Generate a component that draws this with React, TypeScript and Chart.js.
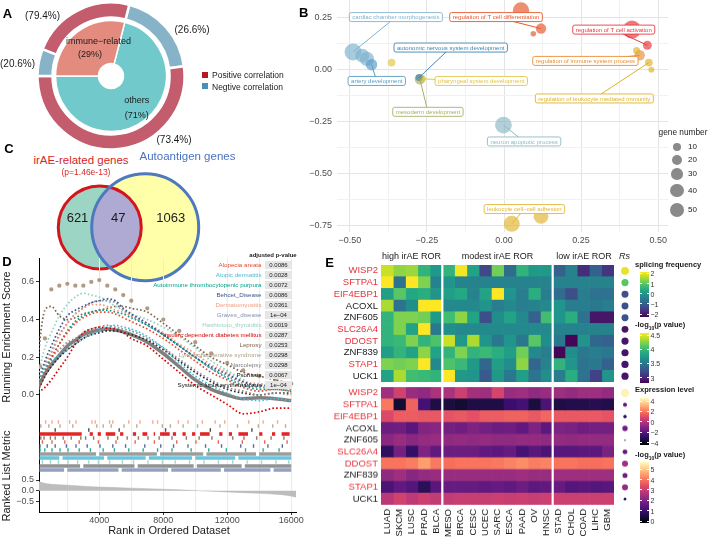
import React, { useEffect, useRef } from "react";
import { Chart, registerables } from "chart.js";

Chart.register(...registerables);

const FONT = "'Liberation Sans', Arial, Helvetica, sans-serif";
Chart.defaults.font.family = FONT;
Chart.defaults.color = "#4d4d4d";

/* ======================= DATA ======================= */
// ---- Panel A ----
const geneClasses = ["others", "immune−related"];
const geneClassShare = [71, 29];
const othersCorrelationSplit = [26.6, 73.4]; // Negtive, Positive (%)
const immuneCorrelationSplit = [20.6, 79.4]; // Negtive, Positive (%)
const correlationLegend = ["Positive correlation", "Negtive correlation"];

// ---- Panel B ----
const goTerms = [
  "cardiac chamber morphogenesis",
  "artery development",
  "autonomic nervous system development",
  "pharyngeal system development",
  "mesoderm development",
  "neuron apoptotic process",
  "regulation of T cell differentiation",
  "regulation of T cell activation",
  "regulation of immune system process",
  "regulation of leukocyte mediated immunity",
  "leukocyte cell−cell adhesion",
];
const bubbleX = [-0.49, -0.46, -0.445, -0.43, -0.365, -0.273, -0.268, -0.276, -0.002, 0.055, 0.12, 0.095, 0.415, 0.465, 0.44, 0.43, 0.47, 0.478, 0.025, 0.12];
const bubbleY = [0.083, 0.065, 0.05, 0.022, 0.032, -0.048, -0.046, -0.04, -0.268, 0.282, 0.195, 0.17, 0.19, 0.115, 0.067, 0.09, 0.032, -0.002, -0.741, -0.705];
const bubbleGenes = [70, 45, 48, 28, 9, 22, 14, 6, 68, 65, 22, 1, 80, 14, 22, 6, 9, 2, 62, 52];
const bubbleTerm = [0, 0, 0, 1, 3, 4, 3, 2, 5, 6, 6, 6, 7, 7, 8, 9, 9, 9, 10, 10];
const geneNumberBreaks = [10, 20, 30, 40, 50];
const bXTicks = [-0.5, -0.375, -0.25, -0.125, 0, 0.125, 0.25, 0.375, 0.5];
const bYTicks = [-0.75, -0.625, -0.5, -0.375, -0.25, -0.125, 0, 0.125, 0.25];

// ---- Panel C ----
const vennSets = ["irAE-related genes", "Autoantigen genes"];
const vennCounts = [621, 47, 1063]; // irAE only, shared, autoantigen only
const vennPValue = "p=1.46e-13";

// ---- Panel D ----
const diseases = [
  "Alopecia areata", "Atopic dermatitis", "Autoimmune thrombocytopenic purpura", "Behcet_Disease",
  "Dermatomyositis", "Graves_disease", "Hashimoto_thyroiditis", "Insulin−dependent diabetes mellitus",
  "Leprosy", "Lymphoproliferative syndrome", "Narcolepsy", "Psoriasis", "Systemic lupus erythematosus",
];
const adjustedP = [0.0086, 0.0028, 0.0072, 0.0086, 0.0361, 0.0001, 0.0019, 0.0287, 0.0253, 0.0298, 0.0298, 0.0067, 0.0001];
const esRanks = [1, 300, 600, 1000, 1500, 2000, 2500, 3000, 3500, 4000, 4500, 5000, 5500, 6000, 7000, 8000, 9000, 10000, 11000, 12000, 13000, 14000, 15000, 16000];
const esAlopecia = [0, 0.06, 0.12, 0.19, 0.27, 0.33, 0.38, 0.41, 0.43, 0.44, 0.44, 0.43, 0.41, 0.39, 0.35, 0.3, 0.24, 0.18, 0.12, 0.08, 0.04, 0.02, 0.03, 0.02];
const esAtopic = [0, 0.1, 0.14, 0.18, 0.21, 0.24, 0.27, 0.3, 0.32, 0.34, 0.36, 0.37, 0.36, 0.35, 0.31, 0.25, 0.17, 0.1, 0.05, 0.01, -0.02, -0.03, -0.02, -0.03];
const esAutoimmune = [0, 0.07, 0.13, 0.2, 0.27, 0.34, 0.39, 0.42, 0.44, 0.45, 0.45, 0.44, 0.43, 0.41, 0.37, 0.32, 0.26, 0.2, 0.14, 0.09, 0.05, 0.03, 0.03, 0.02];
const esBehcet = [0, 0.1, 0.18, 0.26, 0.35, 0.42, 0.45, 0.47, 0.49, 0.5, 0.51, 0.5, 0.46, 0.43, 0.38, 0.32, 0.26, 0.2, 0.15, 0.11, 0.07, 0.05, 0.05, 0.04];
const esDermatomyositis = [0, 0.08, 0.15, 0.22, 0.31, 0.38, 0.43, 0.46, 0.48, 0.48, 0.47, 0.45, 0.44, 0.42, 0.38, 0.33, 0.27, 0.22, 0.16, 0.12, 0.07, 0.06, 0.05, 0.04];
const esGraves = [0, 0.09, 0.16, 0.23, 0.32, 0.38, 0.43, 0.46, 0.49, 0.5, 0.5, 0.49, 0.45, 0.42, 0.37, 0.32, 0.26, 0.2, 0.14, 0.1, 0.06, 0.04, 0.04, 0.03];
const esHashimoto = [0, 0.15, 0.25, 0.33, 0.42, 0.48, 0.52, 0.54, 0.53, 0.52, 0.5, 0.47, 0.45, 0.43, 0.4, 0.36, 0.31, 0.25, 0.18, 0.13, 0.08, 0.05, 0.06, 0.05];
const esInsulin = [0, 0.02, 0.04, 0.08, 0.14, 0.2, 0.27, 0.33, 0.35, 0.36, 0.355, 0.35, 0.33, 0.3, 0.26, 0.19, 0.12, 0.05, 0.0, -0.05, -0.1, -0.09, -0.07, -0.07];
const esLeprosy = [0, 0.3, 0.45, 0.47, 0.42, 0.4, 0.41, 0.43, 0.44, 0.45, 0.46, 0.47, 0.47, 0.46, 0.44, 0.38, 0.32, 0.26, 0.2, 0.16, 0.12, 0.1, 0.08, 0.06];
const esLympho = [0, 0.15, 0.3, 0.56, 0.58, 0.59, 0.58, 0.58, 0.6, 0.61, 0.58, 0.56, 0.53, 0.5, 0.46, 0.4, 0.34, 0.28, 0.22, 0.17, 0.13, 0.1, 0.08, 0.06];
const esNarcolepsy = [0, 0.08, 0.14, 0.2, 0.24, 0.28, 0.3, 0.33, 0.35, 0.36, 0.37, 0.36, 0.35, 0.34, 0.3, 0.25, 0.19, 0.13, 0.08, 0.04, 0.02, 0.0, 0.01, 0.0];
const esPsoriasis = [0, 0.05, 0.1, 0.15, 0.2, 0.24, 0.27, 0.3, 0.32, 0.33, 0.34, 0.34, 0.33, 0.32, 0.29, 0.24, 0.18, 0.12, 0.07, 0.03, 0.01, 0.0, 0.01, 0.01];
const esSystemic = [0, 0.06, 0.11, 0.16, 0.21, 0.26, 0.29, 0.32, 0.335, 0.345, 0.35, 0.345, 0.335, 0.32, 0.28, 0.22, 0.15, 0.08, 0.03, 0.0, -0.02, -0.015, -0.02, -0.03];

const hitsAlopecia = [400, 1000, 1800, 2700, 3900, 5000, 6200, 7400, 8800, 10000, 11400, 12900, 14300, 15700];
const hitsAtopic = [[250, 1500], [1700, 4300], [4500, 6900], [7100, 9800], [10000, 12500], [12700, 16000]];
const hitsAutoimmune = [250, 550, 1000, 1500, 2000, 2700, 3400, 4200, 4900, 5800, 6700, 7600, 8500, 9700, 10800, 11900, 13100, 14200, 15200];
const hitsBehcet = [250, 700, 1200, 1900, 2500, 3200, 4000, 4800, 5600, 6800, 7800, 8600, 9500, 10600, 11600, 12800, 13600, 14500, 15400];
const hitsDermatomyositis = [600, 1000, 1400, 2100, 2500, 3500, 3700, 4600, 4800, 5800, 6500, 7300, 7600, 8900, 9500, 10400, 11200, 11800, 13300, 14200, 15100];
const hitsGraves = [[250, 1800], [2000, 5200], [5400, 8300], [8500, 11600], [11800, 14700], [14900, 16000]];
const hitsHashimoto = [400, 900, 1400, 2000, 2600, 3300, 3900, 4600, 5400, 6100, 7000, 7900, 8700, 9600, 10500, 11400, 12300, 13200, 14100, 15000, 15800];
const hitsInsulin = [[250, 2900], [3400, 3600], [3900, 4100], [4400, 5000], [5300, 5500], [6100, 6300], [6700, 7000], 7400, [7800, 8400], [8600, 8800], [9200, 9400], [9800, 10000], [10300, 10900], [11500, 11700], [12100, 12300], [12700, 13300], [14000, 14200], [14800, 15000], [15400, 15900]];
const hitsLeprosy = [300, 500, 900, 1200, 1700, 2200, 2800, 3100, 3600, 4500, 5100, 5700, 6400, 7000, 7700, 8500, 9400, 10200, 11000, 12300, 13000, 13800, 14700, 15500];
const hitsLympho = [300, 800, 1500, 2300, 3800, 4200, 4700, 5500, 6300, 7900, 8400, 9200, 10100, 11500, 12600, 13900, 14800, 15600];
const hitsNarcolepsy = [[250, 3800], [4000, 7600], [7800, 10500], [10700, 13800], [14000, 16000]];
const hitsPsoriasis = [1200, 3300, 5200, 8100, 10900, 13500];
const hitsSystemic = [[250, 2800], [3000, 6200], [6400, 9900], [10100, 12900], [13100, 16000]];
// top-to-bottom order of the rug rows (indices into diseases)
const rugOrder = [4, 9, 11, 7, 8, 0, 3, 2, 10, 1, 6, 12, 5];

const metricRanks = [1, 200, 500, 1000, 2000, 3000, 4000, 6000, 8000, 10000, 12000, 14000, 15000, 15800, 16300];
const metricValues = [0.62, 0.45, 0.36, 0.3, 0.26, 0.21, 0.17, 0.12, 0.07, 0.01, -0.06, -0.12, -0.16, -0.22, -0.3];
const rankGridTicks = [2000, 4000, 6000, 8000, 10000, 12000, 14000, 16000];
const rankLabelTicks = [4000, 8000, 12000, 16000];
const esTicks = [0, 0.2, 0.4, 0.6];
const metricTicks = [-0.5, 0, 0.5];

// ---- Panel E ----
const rorGroups = ["high irAE ROR", "modest irAE ROR", "low irAE ROR"];
const highRorCancers = ["LUAD", "SKCM", "LUSC", "PRAD", "BLCA"];
const modestRorCancers = ["MESO", "BRCA", "CESC", "UCEC", "SARC", "ESCA", "PAAD", "OV", "HNSC"];
const lowRorCancers = ["STAD", "CHOL", "COAD", "LIHC", "GBM"];
const genesE = ["WISP2", "SFTPA1", "EIF4EBP1", "ACOXL", "ZNF605", "SLC26A4", "DDOST", "ZNF839", "STAP1", "UCK1"];
const geneIsAutoantigen = [true, true, true, false, false, true, true, false, true, false];
const splicingFrequency = [
  [1.8, 1.4, 1.5, 0.6, 0.1, 0.6, 2.1, 0.3, -1.3, 1.2, -0.7, 0.6, 0.1, 0.1, -0.9, -0.3, -1.7, -0.9, -1.6],
  [2.2, -0.6, 2.2, 1.3, -0.3, 0.0, -0.3, -0.3, -0.3, -0.3, -0.3, -0.3, -0.3, -0.3, -0.3, -0.3, -0.3, -0.3, -0.3],
  [0.2, 1.0, 0.4, 0.5, 0.0, 0.2, 0.4, -0.3, 0.3, 2.2, 0.0, -0.4, 0.5, -0.4, -0.7, -1.2, -0.4, -0.6, -0.6],
  [1.6, -0.6, -0.1, 2.2, 2.2, -0.2, -0.2, -0.2, 0.0, -0.4, -0.2, -0.4, -0.3, -0.2, 0.0, -0.4, -0.4, -0.5, -0.4],
  [0.6, 1.3, 1.3, 1.2, 0.1, 0.8, 1.4, 0.3, -1.2, -0.1, 0.3, -0.2, -0.9, 0.8, 0.0, 0.5, -0.6, -2.0, -2.0],
  [0.6, 1.3, 0.3, 2.2, -0.5, -0.1, -0.2, -0.2, -0.2, -0.2, -0.2, -0.2, -0.2, -0.2, -0.3, -0.3, -0.3, -0.3, -0.3],
  [0.6, 0.7, 1.3, 0.6, 0.9, 1.8, 0.1, 1.6, 0.0, -0.5, 0.0, -0.5, 1.0, -0.1, -0.5, -2.2, 0.0, -0.8, -0.9],
  [0.2, 0.6, 0.3, 1.4, 0.3, 0.6, 1.3, 0.6, 0.7, 0.5, 0.2, 1.2, -0.2, -0.4, -2.2, -0.1, -0.5, -0.4, -0.5],
  [1.3, 1.2, 1.3, 2.2, -0.2, 0.9, 0.7, 0.1, -0.8, 0.2, -0.1, 1.4, -0.8, -0.3, 0.6, 0.0, -0.6, -0.5, -0.9],
  [0.3, 1.6, 0.8, 0.7, 0.6, 2.2, 0.1, 0.0, -1.0, 0.1, -0.5, 0.2, -0.6, -0.1, -0.4, 0.5, -0.6, -1.4, 0.0],
];
const expressionLevel = [
  [-0.5, 0.6, -0.6, -0.8, -0.2, -0.2, 0.5, -0.4, -0.5, 0.7, -0.6, -0.5, -0.8, -0.6, -0.5, -0.7, -0.5, -0.5, -0.7],
  [2.0, -3.6, 1.5, -2.5, -3.3, -3.4, -3.6, -3.3, -3.3, -3.3, -2.7, -2.5, -3.4, -2.3, -3.3, -3.2, -3.2, -3.1, -3.2],
  [0.9, 1.4, 1.4, 1.3, 1.3, 1.2, 1.3, 1.1, 1.4, 1.4, 1.5, 1.5, 1.3, 1.6, 1.3, 1.3, 1.3, 1.3, 1.2],
  [-1.6, -1.5, -2.0, -1.1, -1.0, -1.4, -1.5, -1.2, -1.4, -1.6, -1.5, -1.8, -1.2, -1.9, -1.2, -1.3, -1.5, -1.4, -1.4],
  [-0.9, -0.6, -0.9, -0.7, -0.6, -0.8, -0.7, -0.8, -0.7, -0.8, -0.8, -0.7, -0.7, -0.8, -0.7, -0.8, -0.7, -0.7, -0.7],
  [-2.9, -1.4, -2.8, -1.2, -1.8, -1.6, -1.6, -1.6, -1.8, -1.9, -1.7, -2.4, -2.0, -2.3, -2.0, -2.0, -1.9, -1.9, -1.3],
  [1.9, 1.9, 2.1, 2.7, 2.0, 1.8, 1.9, 1.9, 1.9, 2.0, 2.2, 2.4, 2.1, 2.2, 1.9, 1.9, 1.8, 1.8, 1.9],
  [-0.8, -0.5, -1.0, -0.7, -0.6, -0.6, -0.6, -0.6, -0.6, -0.6, -0.6, -0.5, -0.6, -0.6, -0.5, -0.5, -0.5, -0.5, -0.5],
  [-2.3, -1.8, -2.1, -3.0, -2.0, -1.7, -1.7, -1.7, -1.8, -1.7, -1.8, -1.6, -1.9, -1.8, -1.7, -2.1, -2.0, -2.1, -2.0],
  [0.1, 0.6, 0.2, 0.5, 0.3, 0.3, 0.4, 0.4, 0.4, 0.5, 0.4, 0.5, 0.4, 0.5, 0.5, 0.5, 0.5, 0.5, 0.5],
];
const rsSplicing = [0.66, 0.6, 0.58, 0.58, 0.58, 0.57, 0.6, 0.6, 0.6, 0.6];
const pSplicing = [4.5, 4.1, 3.25, 3.25, 3.25, 2.9, 2.9, 2.9, 2.9, 2.9];
const rsExpression = [0.7, 0.33, 0.28, 0.45, 0.12, 0.4, 0.5, 0.42, 0.5, 0.22];
const pExpression = [5.6, 1.4, 0.7, 1.75, 0.6, 1.55, 2.4, 1.7, 2.3, 0.9];
const splicingTicks = [2, 1, 0, -1, -2];
const pSplicingTicks = [4.5, 4, 3.5, 3];
const expressionTicks = [4, 2, 0, -2, -4];
const pExpressionTicks = [5, 4, 3, 2, 1, 0];

/* ======================= STYLE / HELPERS ======================= */
const VIRIDIS = ["#440154", "#482475", "#414487", "#355f8d", "#2a788e", "#21918c", "#22a884", "#44bf70", "#7ad151", "#bddf26", "#fde725"];
const MAGMA = ["#000004", "#140e36", "#3b0f70", "#641a80", "#8c2981", "#b73779", "#de4968", "#f7705c", "#fe9f6d", "#fecf92", "#fcfdbf"];
const SPLICE_RANGE = [-2.26, 2.16];
const PSPLICE_RANGE = [2.8, 4.56];
const EXPR_RANGE = [-4.44, 4.52];
const PEXPR_RANGE = [-0.22, 5.73];

function hexRgb(h: string) {
  const n = parseInt(h.slice(1), 16);
  return [(n >> 16) & 255, (n >> 8) & 255, n & 255];
}
function cmap(stops: string[], t: number) {
  t = Math.max(0, Math.min(1, t));
  const p = t * (stops.length - 1);
  const i = Math.min(Math.floor(p), stops.length - 2);
  const f = p - i;
  const a = hexRgb(stops[i]), b = hexRgb(stops[i + 1]);
  const c = a.map((v, k) => Math.round(v + (b[k] - v) * f));
  return `rgb(${c[0]},${c[1]},${c[2]})`;
}
function scaled(stops: string[], range: number[], v: number) {
  return cmap(stops, (v - range[0]) / (range[1] - range[0]));
}
function withAlpha(hex: string, a: number) {
  const [r, g, b] = hexRgb(hex);
  return `rgba(${r},${g},${b},${a})`;
}
function fmtSigned(v: number, d: number) {
  const s = Math.abs(v).toFixed(d);
  return v < -1e-9 ? "−" + s : s;
}
const isMult = (v: number, step: number) => Math.abs(v / step - Math.round(v / step)) < 1e-6;
const geneRadius = (n: number) => Math.sqrt(6.75 + 0.925 * n);

const termColors = ["#7fb3cf", "#5a9cc2", "#3e86b2", "#e2c44a", "#aab064", "#8fbac6", "#e4582f", "#e63a3e", "#e8903a", "#e0b228", "#e2b535"];
const termLabels = [
  { term: 0, anchor: 0, x: -0.351, y: 0.25 },
  { term: 6, anchor: 10, x: -0.026, y: 0.25 },
  { term: 7, anchor: 13, x: 0.356, y: 0.19 },
  { term: 2, anchor: 7, x: -0.173, y: 0.104 },
  { term: 1, anchor: 3, x: -0.413, y: -0.056 },
  { term: 3, anchor: 6, x: -0.074, y: -0.056 },
  { term: 8, anchor: 14, x: 0.264, y: 0.04 },
  { term: 9, anchor: 16, x: 0.293, y: -0.14 },
  { term: 4, anchor: 5, x: -0.247, y: -0.204 },
  { term: 5, anchor: 8, x: 0.065, y: -0.346 },
  { term: 10, anchor: 18, x: 0.066, y: -0.67 },
];
const diseaseColors = ["#e64b35", "#4dbbd5", "#00a087", "#3c5488", "#f39b7f", "#8491b4", "#91d1c2", "#dc0000", "#7e6148", "#b09c85", "#8c8c8c", "#2b2b2b", "#808080"];
const diseaseTextColors = ["#e64b35", "#4dbbd5", "#00a087", "#3c5488", "#f39b7f", "#8491b4", "#91d1c2", "#dc0000", "#7e6148", "#b09c85", "#7f7f7f", "#111111", "#111111"];
const esSeries = [esAlopecia, esAtopic, esAutoimmune, esBehcet, esDermatomyositis, esGraves, esHashimoto, esInsulin, esLeprosy, esLympho, esNarcolepsy, esPsoriasis, esSystemic];
const hitSeries: any[] = [hitsAlopecia, hitsAtopic, hitsAutoimmune, hitsBehcet, hitsDermatomyositis, hitsGraves, hitsHashimoto, hitsInsulin, hitsLeprosy, hitsLympho, hitsNarcolepsy, hitsPsoriasis, hitsSystemic];
const MAIN_CURVE = 12;
const SPARSE_CURVE = 9;
const D_X_MIN = 230, D_X_MAX = 16300;

const cancersE = [...highRorCancers, ...modestRorCancers, ...lowRorCancers];
const groupBreaks = [highRorCancers.length, highRorCancers.length + modestRorCancers.length];

const noPlugins = { legend: { display: false }, tooltip: { enabled: false } };

/* ======================= CHART CONFIGS ======================= */
function donutConfig(): any {
  const outer = [
    (geneClassShare[0] * othersCorrelationSplit[0]) / 100,
    (geneClassShare[0] * othersCorrelationSplit[1]) / 100,
    (geneClassShare[1] * immuneCorrelationSplit[0]) / 100,
    (geneClassShare[1] * immuneCorrelationSplit[1]) / 100,
  ];
  return {
    type: "doughnut",
    data: {
      labels: ["others Negtive", "others Positive", "immune Negtive", "immune Positive"],
      datasets: [
        { data: outer, backgroundColor: ["#87b3c9", "#c35c6c", "#87b3c9", "#c35c6c"], borderColor: "#ffffff", borderWidth: 2.5, weight: 15 },
        { data: [1], backgroundColor: "rgba(0,0,0,0)", borderWidth: 0, weight: 3 },
        { data: geneClassShare, backgroundColor: ["#71c9cb", "#e48b80"], borderColor: "#ffffff", borderWidth: 1.5, weight: 43 },
      ],
    },
    options: {
      responsive: false, animation: false, events: [],
      rotation: 14.4, radius: 73.5, cutout: 12.5,
      layout: { padding: 0 },
      plugins: noPlugins,
    },
  };
}

const termLabelPlugin = {
  id: "termLabels",
  afterDatasetsDraw(chart: any) {
    const { ctx, scales } = chart;
    const pts = chart.getDatasetMeta(0).data;
    ctx.save();
    ctx.font = `6px ${FONT}`;
    termLabels.forEach((l) => {
      const color = termColors[l.term];
      const p = pts[l.anchor];
      const bx = scales.x.getPixelForValue(l.x);
      const by = scales.y.getPixelForValue(l.y);
      const text = goTerms[l.term];
      const w = ctx.measureText(text).width + 6;
      const h = 9;
      ctx.strokeStyle = color;
      ctx.lineWidth = 1;
      ctx.beginPath();
      ctx.moveTo(p.x, p.y);
      ctx.lineTo(bx, by);
      ctx.stroke();
      ctx.beginPath();
      const x0 = bx - w / 2, y0 = by - h / 2, r = 2;
      ctx.moveTo(x0 + r, y0);
      ctx.lineTo(x0 + w - r, y0);
      ctx.quadraticCurveTo(x0 + w, y0, x0 + w, y0 + r);
      ctx.lineTo(x0 + w, y0 + h - r);
      ctx.quadraticCurveTo(x0 + w, y0 + h, x0 + w - r, y0 + h);
      ctx.lineTo(x0 + r, y0 + h);
      ctx.quadraticCurveTo(x0, y0 + h, x0, y0 + h - r);
      ctx.lineTo(x0, y0 + r);
      ctx.quadraticCurveTo(x0, y0, x0 + r, y0);
      ctx.closePath();
      ctx.fillStyle = "#ffffff";
      ctx.fill();
      ctx.lineWidth = 0.9;
      ctx.stroke();
      ctx.fillStyle = color;
      ctx.textAlign = "center";
      ctx.textBaseline = "middle";
      ctx.fillText(text, bx, by + 0.5);
    });
    ctx.restore();
  },
};

function bubbleConfig(): any {
  const gridColor = (step: number) => (ctx: any) => (ctx.tick && isMult(ctx.tick.value, step) ? "#e4e4e4" : "#f1f1f1");
  return {
    type: "bubble",
    data: {
      datasets: [
        {
          data: bubbleX.map((x, i) => ({ x, y: bubbleY[i], r: geneRadius(bubbleGenes[i]) })),
          backgroundColor: (ctx: any) => withAlpha(termColors[bubbleTerm[ctx.dataIndex]], 0.68),
          borderWidth: 0,
          clip: false,
        },
      ],
    },
    options: {
      responsive: false, animation: false, events: [],
      layout: { padding: { top: 10, right: 10, left: 0, bottom: 0 } },
      plugins: noPlugins,
      scales: {
        x: {
          type: "linear", min: -0.542, max: 0.532,
          afterBuildTicks: (s: any) => { s.ticks = bXTicks.map((v) => ({ value: v })); },
          ticks: { autoSkip: false, maxRotation: 0, font: { size: 9 }, color: "#4d4d4d", padding: 3, callback: (v: number) => (isMult(v, 0.25) ? fmtSigned(v, 2) : "") },
          grid: { color: gridColor(0.25), lineWidth: 1, drawTicks: false },
          border: { display: false },
          afterFit: (s: any) => { s.height = 20; },
        },
        y: {
          type: "linear", min: -0.78, max: 0.33,
          afterBuildTicks: (s: any) => { s.ticks = bYTicks.map((v) => ({ value: v })); },
          ticks: { autoSkip: false, font: { size: 9 }, color: "#4d4d4d", padding: 5, callback: (v: number) => (isMult(v, 0.25) ? fmtSigned(v, 2) : "") },
          grid: { color: gridColor(0.25), lineWidth: 1, drawTicks: false },
          border: { display: false },
          afterFit: (s: any) => { s.width = 37; },
        },
      },
    },
    plugins: [termLabelPlugin],
  };
}

const vennCenters = [[83.5, 226], [165.5, 225]];
const vennPlugin = {
  id: "vennOverlap",
  afterDatasetsDraw(chart: any) {
    const { ctx } = chart;
    const [a, b] = chart.getDatasetMeta(0).data;
    const ra = a.options.radius, rb = b.options.radius;
    ctx.save();
    ctx.beginPath();
    ctx.arc(a.x, a.y, ra, 0, Math.PI * 2);
    ctx.clip();
    ctx.beginPath();
    ctx.arc(b.x, b.y, rb, 0, Math.PI * 2);
    ctx.fillStyle = "#aeaad4";
    ctx.fill();
    ctx.restore();
    ctx.save();
    ctx.lineWidth = 3;
    ctx.strokeStyle = "#d4161c";
    ctx.beginPath();
    ctx.arc(a.x, a.y, ra, 0, Math.PI * 2);
    ctx.stroke();
    ctx.strokeStyle = "#4d79be";
    ctx.beginPath();
    ctx.arc(b.x, b.y, rb, 0, Math.PI * 2);
    ctx.stroke();
    ctx.restore();
  },
};
function vennConfig(): any {
  const sizeA = vennCounts[0] + vennCounts[1];
  const sizeB = vennCounts[1] + vennCounts[2];
  const k = 41.5 / Math.sqrt(sizeA);
  return {
    type: "bubble",
    data: {
      datasets: [
        {
          data: [
            { x: vennCenters[0][0], y: vennCenters[0][1], r: k * Math.sqrt(sizeA) },
            { x: vennCenters[1][0], y: vennCenters[1][1], r: k * Math.sqrt(sizeB) },
          ],
          backgroundColor: ["#9dd5c4", "#ffffa9"],
          borderWidth: 0,
          clip: false,
        },
      ],
    },
    options: {
      responsive: false, animation: false, events: [],
      layout: { padding: 0 },
      plugins: noPlugins,
      scales: {
        x: { type: "linear", min: 0, max: 240, display: false },
        y: { type: "linear", min: 170, max: 285, reverse: true, display: false },
      },
    },
    plugins: [vennPlugin],
  };
}

function dXScale(showLabels: boolean): any {
  return {
    type: "linear", min: D_X_MIN, max: D_X_MAX,
    afterBuildTicks: (s: any) => { s.ticks = rankGridTicks.map((v) => ({ value: v })); },
    ticks: showLabels
      ? { autoSkip: false, maxRotation: 0, font: { size: 9 }, color: "#4d4d4d", padding: 0, callback: (v: number) => (rankLabelTicks.includes(v) ? String(v) : "") }
      : { display: false },
    grid: {
      color: "#ebebeb", lineWidth: 1, drawTicks: showLabels, tickLength: 3,
      tickColor: (ctx: any) => (ctx.tick && rankLabelTicks.includes(ctx.tick.value) ? "#333333" : "rgba(0,0,0,0)"),
    },
    border: showLabels ? { display: true, color: "#000000", width: 1 } : { display: false },
    afterFit: (s: any) => { s.height = showLabels ? 27 : 0; },
  };
}
function dYScale(min: number, max: number, ticks: number[]): any {
  return {
    type: "linear", min, max,
    afterBuildTicks: (s: any) => { s.ticks = ticks.map((v) => ({ value: v })); },
    ticks: { autoSkip: false, font: { size: 9 }, color: "#4d4d4d", padding: 2, callback: (v: number) => fmtSigned(v, 1) },
    grid: { drawOnChartArea: false, drawTicks: true, tickLength: 3, color: "#333333" },
    border: { display: true, color: "#000000", width: 1 },
    afterFit: (s: any) => { s.width = 39; },
  };
}

function esConfig(): any {
  return {
    type: "scatter",
    data: {
      datasets: diseases.map((d, k) => {
        const main = k === MAIN_CURVE;
        const sparse = k === SPARSE_CURVE;
        return {
          label: d,
          data: esRanks.map((r, i) => ({ x: r, y: esSeries[k][i] })),
          showLine: !sparse,
          borderColor: diseaseColors[k],
          backgroundColor: diseaseColors[k],
          borderWidth: main ? 3.5 : 1.7,
          borderDash: main ? [] : [1.6, 2.2],
          pointRadius: sparse ? 1.3 : 0,
          cubicInterpolationMode: "monotone",
          order: main ? 20 : k === 7 ? 0 : 5,
        };
      }),
    },
    options: {
      responsive: false, animation: false, events: [],
      layout: { padding: { top: 10, right: 10, bottom: 10, left: 0 } },
      plugins: noPlugins,
      scales: { x: dXScale(false), y: dYScale(-0.133, 0.727, esTicks) },
    },
  };
}

function rugConfig(): any {
  const rowLabels = rugOrder.map((k) => diseases[k]);
  return {
    type: "bar",
    data: {
      labels: rowLabels,
      datasets: rugOrder.map((k) => ({
        label: diseases[k],
        data: hitSeries[k].map((h: any) => ({ x: Array.isArray(h) ? h : [h, h], y: diseases[k] })),
        backgroundColor: withAlpha(diseaseColors[k], 0.85),
        borderWidth: 0,
        barPercentage: 0.9,
        categoryPercentage: 1,
        minBarLength: 1.4,
        grouped: false,
      })),
    },
    options: {
      indexAxis: "y",
      responsive: false, animation: false, events: [],
      layout: { padding: { top: 10, right: 10, bottom: 10, left: 0 } },
      plugins: noPlugins,
      scales: {
        x: dXScale(false),
        y: {
          type: "category", ticks: { display: false }, grid: { display: false, drawTicks: false },
          border: { display: true, color: "#000000", width: 1 },
          afterFit: (s: any) => { s.width = 39; },
        },
      },
    },
  };
}

function metricConfig(): any {
  return {
    type: "line",
    data: {
      datasets: [
        {
          data: metricRanks.map((r, i) => ({ x: r, y: metricValues[i] })),
          fill: "origin",
          backgroundColor: "#bdbdbd",
          borderColor: "#b5b5b5",
          borderWidth: 0.5,
          pointRadius: 0,
          cubicInterpolationMode: "monotone",
        },
      ],
    },
    options: {
      responsive: false, animation: false, events: [],
      layout: { padding: { top: 10, right: 10, bottom: 0, left: 0 } },
      plugins: noPlugins,
      scales: { x: dXScale(true), y: dYScale(-0.995, 0.874, metricTicks) },
    },
  };
}

const groupGapPlugin = {
  id: "groupGaps",
  afterDatasetsDraw(chart: any) {
    const { ctx, chartArea, scales } = chart;
    ctx.save();
    ctx.strokeStyle = "#ffffff";
    ctx.lineWidth = 2.2;
    groupBreaks.forEach((b) => {
      const x = scales.x.getPixelForValue(b);
      ctx.beginPath();
      ctx.moveTo(x, chartArea.top);
      ctx.lineTo(x, chartArea.bottom);
      ctx.stroke();
    });
    ctx.restore();
  },
};

function heatConfig(values: number[][], stops: string[], range: number[], showX: boolean): any {
  return {
    type: "bar",
    data: {
      labels: genesE,
      datasets: cancersE.map((ct, j) => ({
        label: ct,
        data: genesE.map(() => 1),
        backgroundColor: genesE.map((_, i) => scaled(stops, range, values[i][j])),
        borderWidth: 0,
        barPercentage: 1,
        categoryPercentage: 1,
        stack: "cells",
      })),
    },
    options: {
      indexAxis: "y",
      responsive: false, animation: false, events: [],
      layout: { padding: { top: 10, right: 10, bottom: showX ? 0 : 10, left: 0 } },
      plugins: noPlugins,
      scales: {
        x: {
          type: "linear", stacked: true, min: 0, max: cancersE.length, display: showX,
          afterBuildTicks: (s: any) => { s.ticks = cancersE.map((_, j) => ({ value: j + 0.5 })); },
          ticks: { autoSkip: false, minRotation: 90, maxRotation: 90, font: { size: 9.5 }, color: "#1a1a1a", padding: 4, callback: (_v: any, i: number) => cancersE[i] },
          grid: { display: false, drawTicks: false },
          border: { display: false },
          afterFit: (s: any) => { s.height = showX ? 34 : 0; },
        },
        y: {
          type: "category", stacked: true,
          ticks: { autoSkip: false, font: { size: 9.5 }, padding: 3, color: (ctx: any) => (geneIsAutoantigen[ctx.index] ? "#e8343c" : "#1a1a1a") },
          grid: { display: false, drawTicks: false },
          border: { display: false },
          afterFit: (s: any) => { s.width = 81; },
        },
      },
    },
    plugins: [groupGapPlugin],
  };
}

function dotsConfig(rs: number[], p: number[], stops: string[], range: number[]): any {
  return {
    type: "scatter",
    data: {
      labels: genesE,
      datasets: [
        {
          data: genesE.map((g) => ({ x: 1, y: g })),
          pointRadius: rs.map((v) => v * 6),
          pointBackgroundColor: p.map((v) => scaled(stops, range, v)),
          pointBorderWidth: 0,
          pointBorderColor: "rgba(0,0,0,0)",
          clip: false,
        },
      ],
    },
    options: {
      responsive: false, animation: false, events: [],
      layout: { padding: { top: 10, right: 0, bottom: 10, left: 0 } },
      plugins: noPlugins,
      scales: {
        x: { type: "linear", min: 0, max: 2, display: false },
        y: { type: "category", labels: genesE, offset: true, display: false },
      },
    },
  };
}

/* ======================= COMPONENTS ======================= */
function ChartBox({ left, top, width, height, make }: any) {
  const ref = useRef<HTMLCanvasElement>(null);
  useEffect(() => {
    const chart = new Chart(ref.current as HTMLCanvasElement, make());
    return () => chart.destroy();
  }, []);
  return <canvas ref={ref} width={width} height={height} style={{ position: "absolute", left, top, width, height }} />;
}

function T({ x, y, children, size = 9, color = "#1a1a1a", anchor = "center", bold = false, italic = false, rotate = 0 }: any) {
  const tx = anchor === "left" ? "0" : anchor === "right" ? "-100%" : "-50%";
  return (
    <div
      style={{
        position: "absolute", left: x, top: y,
        transform: rotate ? `translate(-50%,-50%) rotate(${rotate}deg)` : `translate(${tx},-50%)`,
        fontSize: size, lineHeight: 1, color, whiteSpace: "nowrap", fontFamily: FONT,
        fontWeight: bold ? "bold" : "normal", fontStyle: italic ? "italic" : "normal",
      }}
    >
      {children}
    </div>
  );
}

function ColorBar({ x, y, w, h, stops, range, ticks, fmt }: any) {
  const grad = `linear-gradient(to top, ${stops.join(",")})`;
  return (
    <>
      <div style={{ position: "absolute", left: x, top: y, width: w, height: h, background: grad }} />
      {ticks.map((t: number) => {
        const ty = y + ((range[1] - t) / (range[1] - range[0])) * h;
        return (
          <React.Fragment key={t}>
            <div style={{ position: "absolute", left: x, top: ty - 0.5, width: 2, height: 1, background: "#fff" }} />
            <div style={{ position: "absolute", left: x + w - 2, top: ty - 0.5, width: 2, height: 1, background: "#fff" }} />
            <T x={x + w + 1.5} y={ty} anchor="left" size={7} color="#333">{fmt(t)}</T>
          </React.Fragment>
        );
      })}
    </>
  );
}

const LogTitle = () => (
  <span>-log<sub style={{ fontSize: 5 }}>10</sub>(p value)</span>
);

export default function App() {
  const pct = (v: number) => `(${v}%)`;
  return (
    <div style={{ position: "fixed", left: 0, top: 0, width: 708, height: 539, background: "#ffffff", overflow: "hidden", fontFamily: FONT }}>
      {/* ---------- Panel A ---------- */}
      <ChartBox left={36} top={0.5} width={150} height={150} make={donutConfig} />
      <T x={42.5} y={16} size={10}>{pct(immuneCorrelationSplit[1])}</T>
      <T x={192} y={29.5} size={10}>{pct(othersCorrelationSplit[0])}</T>
      <T x={17.5} y={63.5} size={10}>{pct(immuneCorrelationSplit[0])}</T>
      <T x={174} y={140} size={10}>{pct(othersCorrelationSplit[1])}</T>
      <T x={98.5} y={41} size={9}>{geneClasses[1]}</T>
      <T x={90} y={53.5} size={9}>{`(${geneClassShare[1]}%)`}</T>
      <T x={136.7} y={100} size={9}>{geneClasses[0]}</T>
      <T x={136.7} y={114.5} size={9}>{`(${geneClassShare[0]}%)`}</T>
      <div style={{ position: "absolute", left: 201.7, top: 71.8, width: 6.6, height: 6, background: "#b2182b" }} />
      <div style={{ position: "absolute", left: 201.7, top: 83.3, width: 6.6, height: 6, background: "#4a8fba" }} />
      <T x={212} y={75} size={8.5} anchor="left">{correlationLegend[0]}</T>
      <T x={212} y={86.5} size={8.5} anchor="left">{correlationLegend[1]}</T>

      {/* ---------- Panel B ---------- */}
      <ChartBox left={300} top={-10} width={378} height={262} make={bubbleConfig} />
      <T x={683} y={131.5} size={8.3}>gene number</T>
      {geneNumberBreaks.map((g, i) => {
        const cy = [147, 160, 174, 190.7, 210][i];
        const r = geneRadius(g);
        return (
          <React.Fragment key={g}>
            <div style={{ position: "absolute", left: 677 - r, top: cy - r, width: 2 * r, height: 2 * r, borderRadius: "50%", background: "#8a8a8a" }} />
            <T x={688} y={cy} size={8} anchor="left">{String(g)}</T>
          </React.Fragment>
        );
      })}

      {/* ---------- Panel C ---------- */}
      <ChartBox left={0} top={170} width={240} height={115} make={vennConfig} />
      <T x={81} y={161} size={11.5} color="#d62728">{vennSets[0]}</T>
      <T x={86} y={172} size={8.5} color="#d62728">{`(${vennPValue})`}</T>
      <T x={187.5} y={156.5} size={11.5} color="#4a74c0">{vennSets[1]}</T>
      <T x={77.5} y={217} size={13}>{String(vennCounts[0])}</T>
      <T x={118.3} y={217} size={13}>{String(vennCounts[1])}</T>
      <T x={170.8} y={217} size={13}>{String(vennCounts[2])}</T>

      {/* ---------- Panel D ---------- */}
      <ChartBox left={0} top={248} width={306} height={182} make={esConfig} />
      <ChartBox left={0} top={410} width={306} height={72} make={rugConfig} />
      <ChartBox left={0} top={462} width={306} height={77} make={metricConfig} />
      <T x={6} y={337} size={11} rotate={-90} color="#1a1a1a">Running Enrichment Score</T>
      <T x={6} y={476} size={11} rotate={-90} color="#1a1a1a">Ranked List Metric</T>
      <T x={169} y={530} size={11}>Rank in Ordered Dataset</T>
      <T x={273} y={254.5} size={6} bold>adjusted p-value</T>
      {diseases.map((d, i) => (
        <React.Fragment key={d}>
          <T x={261.5} y={265.3 + 10 * i} size={6.2} anchor="right" color={diseaseTextColors[i]}>{d}</T>
          <div style={{ position: "absolute", left: 265, top: 265.3 + 10 * i - 4.2, width: 27, height: 8.4, background: "#e6e6e6" }} />
          <T x={278.5} y={265.3 + 10 * i} size={6}>{adjustedP[i] < 0.001 ? "1e−04" : adjustedP[i].toFixed(4)}</T>
        </React.Fragment>
      ))}

      {/* ---------- Panel E ---------- */}
      <ChartBox left={300} top={255} width={324} height={137} make={() => heatConfig(splicingFrequency, VIRIDIS, SPLICE_RANGE, false)} />
      <ChartBox left={300} top={377.3} width={324} height={161.7} make={() => heatConfig(expressionLevel, MAGMA, EXPR_RANGE, true)} />
      <ChartBox left={614} top={255} width={22} height={137} make={() => dotsConfig(rsSplicing, pSplicing, VIRIDIS, PSPLICE_RANGE)} />
      <ChartBox left={614} top={377.3} width={22} height={137.7} make={() => dotsConfig(rsExpression, pExpression, MAGMA, PEXPR_RANGE)} />
      <T x={411.5} y={256} size={9}>{rorGroups[0]}</T>
      <T x={497.5} y={256} size={9}>{rorGroups[1]}</T>
      <T x={584} y={256} size={9}>{rorGroups[2]}</T>
      <T x={624.5} y={256} size={9} italic>Rs</T>

      <T x={635} y={264.5} size={7.5} bold anchor="left">splicing frequency</T>
      <ColorBar x={639.5} y={271.7} w={9.5} h={45} stops={VIRIDIS} range={SPLICE_RANGE} ticks={splicingTicks} fmt={(t: number) => fmtSigned(t, 0)} />
      <T x={635} y={326} size={7.5} bold anchor="left"><LogTitle /></T>
      <ColorBar x={639.5} y={333.3} w={9.5} h={50} stops={VIRIDIS} range={PSPLICE_RANGE} ticks={pSplicingTicks} fmt={(t: number) => String(t)} />
      <T x={635} y={390} size={7.5} bold anchor="left">Expression level</T>
      <ColorBar x={639.5} y={398.3} w={9.5} h={46.7} stops={MAGMA} range={EXPR_RANGE} ticks={expressionTicks} fmt={(t: number) => fmtSigned(t, 0)} />
      <T x={635} y={456} size={7.5} bold anchor="left"><LogTitle /></T>
      <ColorBar x={639.5} y={461.7} w={9.5} h={61.6} stops={MAGMA} range={PEXPR_RANGE} ticks={pExpressionTicks} fmt={(t: number) => String(t)} />

      {/* ---------- Panel letters ---------- */}
      <T x={7.5} y={13} size={13} bold color="#000">A</T>
      <T x={303.8} y={12} size={13} bold color="#000">B</T>
      <T x={9} y={148} size={13} bold color="#000">C</T>
      <T x={7} y={261} size={13} bold color="#000">D</T>
      <T x={329.7} y={262} size={13} bold color="#000">E</T>
    </div>
  );
}
